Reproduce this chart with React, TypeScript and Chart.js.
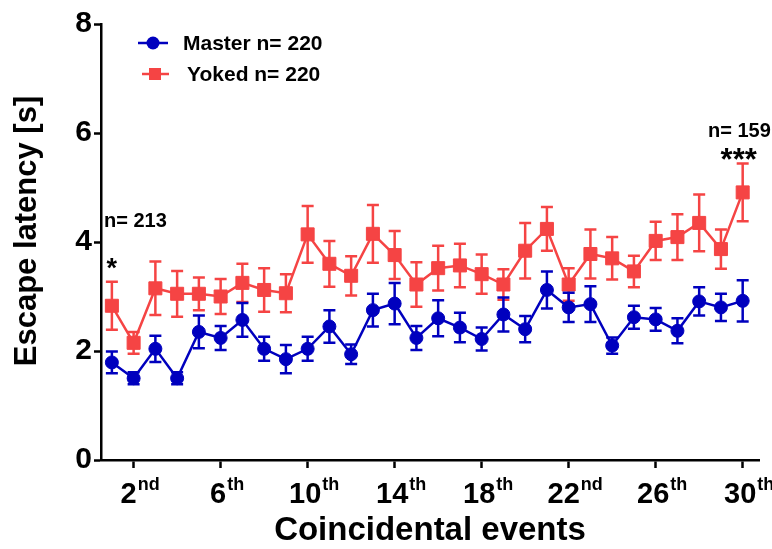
import { useEffect, useRef } from 'react';
import { Chart, registerables } from 'chart.js';

Chart.register(...registerables);

// Coincidental event number (x)
const EVENTS = [1, 2, 3, 4, 5, 6, 7, 8, 9, 10, 11, 12, 13, 14, 15, 16, 17, 18, 19, 20, 21, 22, 23, 24, 25, 26, 27, 28, 29, 30];

// Mean escape latency [s] and SEM
const MASTER_MEAN = [1.79, 1.50, 2.04, 1.50, 2.35, 2.24, 2.57, 2.04, 1.85, 2.04, 2.45, 1.94, 2.75, 2.87, 2.24, 2.60, 2.43, 2.22, 2.67, 2.40, 3.12, 2.80, 2.86, 2.10, 2.62, 2.58, 2.37, 2.91, 2.80, 2.92];
const MASTER_SEM = [0.20, 0.11, 0.24, 0.11, 0.30, 0.22, 0.31, 0.22, 0.26, 0.22, 0.30, 0.18, 0.30, 0.38, 0.22, 0.33, 0.27, 0.21, 0.31, 0.24, 0.34, 0.27, 0.33, 0.15, 0.21, 0.21, 0.23, 0.26, 0.25, 0.38];
const YOKED_MEAN = [2.83, 2.15, 3.15, 3.05, 3.05, 3.00, 3.25, 3.12, 3.06, 4.14, 3.60, 3.38, 4.15, 3.76, 3.22, 3.52, 3.57, 3.41, 3.22, 3.84, 4.24, 3.22, 3.78, 3.70, 3.46, 4.02, 4.09, 4.35, 3.87, 4.91];
const YOKED_SEM = [0.44, 0.20, 0.49, 0.42, 0.30, 0.32, 0.35, 0.40, 0.35, 0.52, 0.42, 0.36, 0.53, 0.44, 0.41, 0.41, 0.40, 0.36, 0.28, 0.51, 0.40, 0.30, 0.45, 0.39, 0.29, 0.35, 0.42, 0.52, 0.36, 0.53];

const SERIES_NAMES = ['Master n= 220', 'Yoked n= 220'];
const X_TICKS = [2, 6, 10, 14, 18, 22, 26, 30];
const X_TICK_LABELS = ['2nd', '6th', '10th', '14th', '18th', '22nd', '26th', '30th'];
const Y_TICKS = [0, 2, 4, 6, 8];

const FONT = "'Liberation Sans', Arial, Helvetica, sans-serif";
const BLUE = '#0000BE';
const RED = '#F54444';

const SEMS = [MASTER_SEM, YOKED_SEM];

// Mean ± SEM whiskers, drawn under each series' line and markers
const errorBars = {
  id: 'errorBars',
  beforeDatasetDraw(chart: any, args: any) {
    const { ctx } = chart;
    const yScale = chart.scales.y;
    const ds = chart.data.datasets[args.index];
    const sem = SEMS[args.index];
    ctx.save();
    ctx.strokeStyle = ds.borderColor;
    ctx.lineWidth = 2.5;
    args.meta.data.forEach((pt: any, i: number) => {
      const v = ds.data[i].y;
      const x = pt.x;
      const yt = yScale.getPixelForValue(v + sem[i]);
      const yb = yScale.getPixelForValue(v - sem[i]);
      ctx.beginPath();
      ctx.moveTo(x, yt);
      ctx.lineTo(x, yb);
      ctx.moveTo(x - 6, yt);
      ctx.lineTo(x + 6, yt);
      ctx.moveTo(x - 6, yb);
      ctx.lineTo(x + 6, yb);
      ctx.stroke();
    });
    ctx.restore();
  },
};

const overlay = {
  id: 'overlay',
  afterDraw(chart: any) {
    const { ctx } = chart;
    const xs = chart.scales.x;
    const area = chart.chartArea;
    ctx.save();
    ctx.fillStyle = '#000';

    // ordinal tick labels with superscript suffix
    X_TICKS.forEach((v, i) => {
      const m = X_TICK_LABELS[i].match(/^(\d+)(\D+)$/);
      const num = m ? m[1] : X_TICK_LABELS[i];
      const suf = m ? m[2] : '';
      ctx.font = `bold 29px ${FONT}`;
      const w1 = ctx.measureText(num).width;
      ctx.font = `bold 18px ${FONT}`;
      const w2 = ctx.measureText(suf).width;
      const x0 = xs.getPixelForValue(v) + 6 - (w1 + w2) / 2;
      ctx.textAlign = 'left';
      ctx.textBaseline = 'alphabetic';
      ctx.font = `bold 29px ${FONT}`;
      ctx.fillText(num, x0, area.bottom + 43);
      ctx.font = `bold 18px ${FONT}`;
      ctx.fillText(suf, x0 + w1 + 1, area.bottom + 30);
    });

    // y axis title
    ctx.save();
    ctx.translate(27, 231);
    ctx.rotate(-Math.PI / 2);
    ctx.textAlign = 'center';
    ctx.textBaseline = 'middle';
    ctx.font = `bold 31px ${FONT}`;
    ctx.fillText('Escape latency [s]', 0, 0);
    ctx.restore();

    // legend
    const legend = [
      { color: BLUE, style: 'circle', lx0: 138, lx1: 168, mx: 153, y: 43, tx: 183 },
      { color: RED, style: 'rect', lx0: 142, lx1: 169, mx: 155, y: 74, tx: 187 },
    ];
    legend.forEach((it, i) => {
      ctx.strokeStyle = it.color;
      ctx.fillStyle = it.color;
      ctx.lineWidth = 2.5;
      ctx.beginPath();
      ctx.moveTo(it.lx0, it.y);
      ctx.lineTo(it.lx1, it.y);
      ctx.stroke();
      ctx.beginPath();
      if (it.style === 'circle') {
        ctx.arc(it.mx, it.y, 6.5, 0, Math.PI * 2);
      } else {
        ctx.rect(it.mx - 6, it.y - 6, 12, 12);
      }
      ctx.fill();
      ctx.fillStyle = '#000';
      ctx.font = `bold 21px ${FONT}`;
      ctx.textAlign = 'left';
      ctx.textBaseline = 'middle';
      ctx.fillText(SERIES_NAMES[i], it.tx, it.y + 1);
    });

    // group sizes and significance marks
    ctx.fillStyle = '#000';
    ctx.textAlign = 'left';
    ctx.textBaseline = 'alphabetic';
    ctx.font = `bold 20px ${FONT}`;
    ctx.fillText('n= 213', 104, 227);
    ctx.fillText('n= 159', 708, 137);
    ctx.textAlign = 'center';
    ctx.font = `bold 27px ${FONT}`;
    ctx.fillText('*', xs.getPixelForValue(1), 277);
    ctx.font = `bold 31px ${FONT}`;
    ctx.fillText('***', xs.getPixelForValue(30) - 4, 170);
    ctx.restore();
  },
};

export default function App() {
  const ref = useRef<HTMLCanvasElement | null>(null);

  useEffect(() => {
    document.body.style.margin = '0';
    const canvas = ref.current;
    if (!canvas) return;
    const chart = new Chart(canvas, {
      type: 'line',
      data: {
        datasets: [
          {
            label: SERIES_NAMES[0],
            data: EVENTS.map((e, i) => ({ x: e, y: MASTER_MEAN[i] })),
            borderColor: BLUE,
            backgroundColor: BLUE,
            borderWidth: 2.5,
            pointStyle: 'circle',
            pointRadius: 6.5,
            pointBorderWidth: 1,
            tension: 0,
          },
          {
            label: SERIES_NAMES[1],
            data: EVENTS.map((e, i) => ({ x: e, y: YOKED_MEAN[i] })),
            borderColor: RED,
            backgroundColor: RED,
            borderWidth: 2.5,
            pointStyle: 'rect',
            pointRadius: 9.2,
            pointBorderWidth: 1,
            tension: 0,
          },
        ],
      },
      options: {
        responsive: false,
        animation: false,
        devicePixelRatio: 1,
        layout: { padding: { top: 24, right: 13, bottom: 0, left: 0 } },
        plugins: {
          legend: { display: false },
          tooltip: { enabled: false },
        },
        scales: {
          x: {
            type: 'linear',
            min: 0.5,
            max: 30.75,
            afterBuildTicks: (s: any) => {
              s.ticks = X_TICKS.map((v) => ({ value: v }));
            },
            afterFit: (s: any) => {
              s.height = 89;
              s.paddingLeft = 0;
              s.paddingRight = 0;
            },
            ticks: { display: false },
            grid: {
              drawOnChartArea: false,
              drawTicks: true,
              tickLength: 8,
              tickWidth: 2.5,
              tickColor: '#000',
            },
            border: { display: true, color: '#000', width: 2.5 },
            title: {
              display: true,
              text: 'Coincidental events',
              color: '#000',
              font: { family: FONT, size: 33, weight: 'bold', lineHeight: 1 },
              padding: { top: 0, bottom: 2 },
            },
          },
          y: {
            min: 0,
            max: 8,
            afterBuildTicks: (s: any) => {
              s.ticks = Y_TICKS.map((v) => ({ value: v }));
            },
            afterFit: (s: any) => {
              s.width = 101;
              s.paddingTop = 0;
              s.paddingBottom = 0;
            },
            ticks: {
              color: '#000',
              padding: 2,
              font: { family: FONT, size: 30, weight: 'bold' },
            },
            grid: {
              drawOnChartArea: false,
              drawTicks: true,
              tickLength: 7,
              tickWidth: 2.5,
              tickColor: '#000',
            },
            border: { display: true, color: '#000', width: 2.5 },
          },
        },
      },
      plugins: [errorBars, overlay],
    });
    return () => chart.destroy();
  }, []);

  return <canvas ref={ref} width={772} height={549} style={{ display: 'block' }} />;
}
